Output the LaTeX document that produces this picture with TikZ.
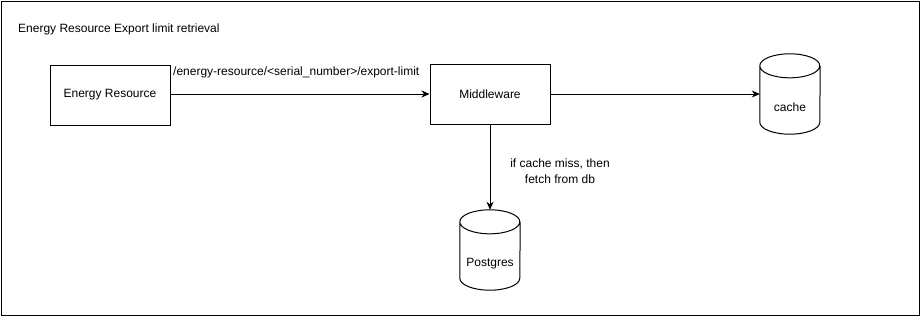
\documentclass[tikz,border=0pt]{standalone}
\usepackage{fontspec}
\setmainfont{Liberation Sans}
\usetikzlibrary{arrows.meta}
\begin{document}
\begin{tikzpicture}[x=1pt,y=-1pt,
  font=\fontsize{12}{14}\selectfont,
  box/.style={draw,line width=1pt,minimum width=120pt,minimum height=60pt,inner sep=0pt},
  dbarea/.style={minimum width=60pt,minimum height=80pt,inner sep=0pt},
  dbline/.style={line width=1pt},
  flow/.style={line width=1pt,-{Stealth[length=8pt,width=7pt,inset=2.5pt]}},
  lbl/.style={inner sep=0pt}]
\useasboundingbox (0,0) rectangle (921,317);
\draw[line width=1pt] (1,1) rectangle (919.5,315.5);
\node[lbl,anchor=west] (title) at (18,29) {Energy Resource Export limit retrieval};
\node[box] (er) at (110,95) {Energy Resource};
\node[box] (mw) at (490,94) {Middleware};
% database cylinders: outline drawn around an invisible 60x80 node
\node[dbarea] (cache) at (790,94) {};
\node[dbarea] (pg) at (490,250) {};
\foreach \c in {cache,pg}{
  \draw[dbline] ([yshift=-12pt]\c.north west) arc[start angle=180,end angle=360,x radius=30pt,y radius=12pt]
                arc[start angle=0,end angle=180,x radius=30pt,y radius=12pt]
                -- ([yshift=12pt]\c.south west)
                arc[start angle=180,end angle=360,x radius=30pt,y radius=12pt]
                -- ([yshift=-12pt]\c.north east);
}
\node[lbl] (cachetxt) at (790,107) {cache};
\node[lbl] (pgtxt) at (490,264) {Postgres};
\draw[flow] (er.east |- mw.west) -- (mw.west);
\node[lbl,anchor=west] (path) at (173,72) {/energy-resource/<serial\_number>/export-limit};
\draw[flow] (mw.east) -- (cache.west |- mw.east);
\draw[flow] (mw.south) -- (pg.north);
\node[lbl,align=center,font=\fontsize{12}{16}\selectfont] (miss) at (560,171) {if cache miss, then\\fetch from db};
\end{tikzpicture}
\end{document}
